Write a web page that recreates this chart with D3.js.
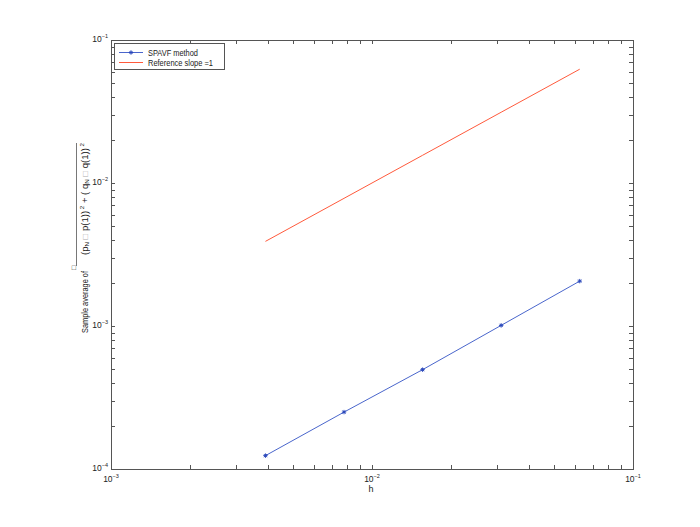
<!DOCTYPE html>
<html><head><meta charset="utf-8">
<script src="https://cdn.jsdelivr.net/npm/d3@7"></script>
<style>body{margin:0;background:#fff}svg{display:block}text{font-family:"Liberation Sans",Arial,sans-serif;fill:#222}</style>
</head><body><svg id="c" width="700" height="527"></svg>
<script>
const hValues = [0.00390625, 0.0078125, 0.015625, 0.03125, 0.0625];
const spavfValues = [1.24e-4, 2.5e-4, 4.95e-4, 1.01e-3, 2.06e-3];
const refValues = [0.00390625, 0.0078125, 0.015625, 0.03125, 0.0625];
const xTickExp = [-3, -2, -1];
const yTickExp = [-4, -3, -2, -1];
const legendLabels = ["SPAVF method", "Reference slope =1"];

const svg = d3.select("#c");
const L = 111, R = 633, T = 40, B = 469;
const x = d3.scaleLog().domain([1e-3, 1e-1]).range([L, R]);
const y = d3.scaleLog().domain([1e-4, 1e-1]).range([B, T]);
const axisColor = "#555";

svg.append("rect").attr("x", L + 0.5).attr("y", T + 0.5).attr("width", R - L).attr("height", B - T)
  .attr("fill", "none").attr("stroke", axisColor).attr("stroke-width", 1);

function minorTicks(domain) {
  const out = [];
  for (let e = Math.log10(domain[0]); e < Math.log10(domain[1]); e++) {
    for (let k = 1; k < 10; k++) out.push(k * Math.pow(10, e));
  }
  out.push(domain[1]);
  return out;
}
const tl = 4;
const g = svg.append("g").attr("stroke", axisColor).attr("stroke-width", 1);
minorTicks(x.domain()).forEach(v => {
  const px = Math.round(x(v)) + 0.5;
  g.append("line").attr("x1", px).attr("x2", px).attr("y1", B).attr("y2", B - tl);
  g.append("line").attr("x1", px).attr("x2", px).attr("y1", T).attr("y2", T + tl);
});
minorTicks(y.domain()).forEach(v => {
  const py = Math.round(y(v)) + 0.5;
  g.append("line").attr("x1", L).attr("x2", L + tl).attr("y1", py).attr("y2", py);
  g.append("line").attr("x1", R).attr("x2", R - tl).attr("y1", py).attr("y2", py);
});

xTickExp.forEach(e => {
  const t = svg.append("text").attr("x", x(Math.pow(10, e))).attr("y", B + 13)
    .attr("text-anchor", "middle").attr("font-size", 8.5);
  t.append("tspan").text("10");
  t.append("tspan").attr("dy", -4).attr("font-size", 5.5).text("\u2212" + Math.abs(e));
});
yTickExp.forEach(e => {
  const t = svg.append("text").attr("x", L - 3).attr("y", y(Math.pow(10, e)) + 2)
    .attr("text-anchor", "end").attr("font-size", 8.5);
  t.append("tspan").text("10");
  t.append("tspan").attr("dy", -4).attr("font-size", 5.5).text("\u2212" + Math.abs(e));
});

svg.append("text").attr("x", (L + R) / 2 - 1).attr("y", B + 23).attr("text-anchor", "middle")
  .attr("font-size", 9).text("h");

// y label
const yl = svg.append("g").attr("transform", "translate(88,333) rotate(-90)");
yl.append("text").attr("x", 0).attr("y", 0).attr("font-size", 9)
  .attr("textLength", 62).attr("lengthAdjust", "spacingAndGlyphs").text("Sample average of");
yl.append("text").attr("x", 63).attr("y", -12).attr("font-size", 7).attr("fill", "#aaa").text("\u25A1");
const inner = yl.append("text").attr("x", 78).attr("y", 0).attr("font-size", 8.5)
  .attr("textLength", 112).attr("lengthAdjust", "spacingAndGlyphs");
inner.append("tspan").text("(p");
inner.append("tspan").attr("font-size", 5.5).attr("dy", 1).text("N");
inner.append("tspan").attr("dy", -1).attr("fill", "#aaa").text(" \u25A1 ");
inner.append("tspan").text("p(1))");
inner.append("tspan").attr("font-size", 5.5).attr("dy", -4).text(" 2");
inner.append("tspan").attr("dy", 4).text(" + ( q");
inner.append("tspan").attr("font-size", 5.5).attr("dy", 1).text("N");
inner.append("tspan").attr("dy", -1).attr("fill", "#aaa").text(" \u25A1 ");
inner.append("tspan").text("q(1))");
inner.append("tspan").attr("font-size", 5.5).attr("dy", -4).text(" 2");
yl.append("line").attr("x1", 67).attr("x2", 190).attr("y1", -11.5).attr("y2", -11.5)
  .attr("stroke", "#555").attr("stroke-width", 0.8);

const blue = "#4a66cc", red = "#ff5a3c";
const line = d3.line().x(d => x(d[0])).y(d => y(d[1]));
svg.append("path").datum(hValues.map((h, i) => [h, refValues[i]])).attr("d", line)
  .attr("fill", "none").attr("stroke", red).attr("stroke-width", 1);
svg.append("path").datum(hValues.map((h, i) => [h, spavfValues[i]])).attr("d", line)
  .attr("fill", "none").attr("stroke", blue).attr("stroke-width", 1);

function star(sel, cx, cy) {
  const r = 2.2;
  const gg = sel.append("g").attr("stroke", "#2a48bb").attr("stroke-width", 1);
  gg.append("line").attr("x1", cx - r).attr("x2", cx + r).attr("y1", cy).attr("y2", cy);
  gg.append("line").attr("x1", cx).attr("x2", cx).attr("y1", cy - r).attr("y2", cy + r);
  gg.append("line").attr("x1", cx - r * .7).attr("x2", cx + r * .7).attr("y1", cy - r * .7).attr("y2", cy + r * .7);
  gg.append("line").attr("x1", cx - r * .7).attr("x2", cx + r * .7).attr("y1", cy + r * .7).attr("y2", cy - r * .7);
}
hValues.forEach((h, i) => star(svg, x(h), y(spavfValues[i])));

const lg = svg.append("g");
lg.append("rect").attr("x", 114.5).attr("y", 43.5).attr("width", 110).attr("height", 26)
  .attr("fill", "#fff").attr("stroke", axisColor);
lg.append("line").attr("x1", 119).attr("x2", 143).attr("y1", 52.5).attr("y2", 52.5).attr("stroke", blue);
star(lg, 131, 52.5);
lg.append("line").attr("x1", 119).attr("x2", 143).attr("y1", 62.5).attr("y2", 62.5).attr("stroke", red);
lg.append("text").attr("x", 148).attr("y", 55.5).attr("font-size", 9)
  .attr("textLength", 50).attr("lengthAdjust", "spacingAndGlyphs").text(legendLabels[0]);
lg.append("text").attr("x", 148).attr("y", 65.5).attr("font-size", 9)
  .attr("textLength", 65).attr("lengthAdjust", "spacingAndGlyphs").text(legendLabels[1]);
</script></body></html>
